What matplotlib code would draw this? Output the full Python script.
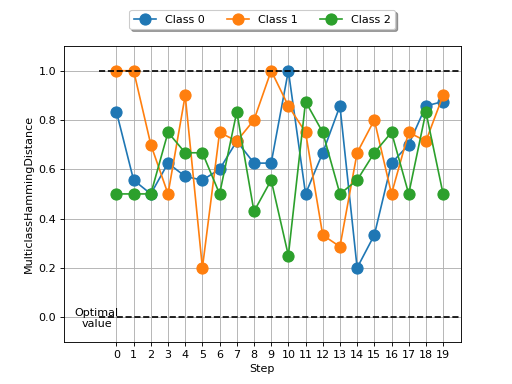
import matplotlib
matplotlib.use("Agg")
import matplotlib.pyplot as plt
import numpy as np

steps = list(range(20))
class0 = [0.833, 0.556, 0.5, 0.625, 0.571, 0.556, 0.6, 0.714, 0.625, 0.625,
          1.0, 0.5, 0.667, 0.857, 0.2, 0.333, 0.625, 0.7, 0.857, 0.875]
class1 = [1.0, 1.0, 0.7, 0.5, 0.9, 0.2, 0.75, 0.714, 0.8, 1.0,
          0.857, 0.75, 0.333, 0.286, 0.667, 0.8, 0.5, 0.75, 0.714, 0.9]
class2 = [0.5, 0.5, 0.5, 0.75, 0.667, 0.667, 0.5, 0.833, 0.429, 0.556,
          0.25, 0.875, 0.75, 0.5, 0.556, 0.667, 0.75, 0.5, 0.833, 0.5]
labels = ["Class 0", "Class 1", "Class 2"]
optimal_lines = [0.0, 1.0]

fig, ax = plt.subplots(figsize=(6.4, 4.8), dpi=80)
for vals, lab in zip([class0, class1, class2], labels):
    ax.plot(steps, vals, marker="o", markersize=10, label=lab)

for v in optimal_lines:
    ax.hlines(v, -1, 20, colors="k", linestyles="dashed", linewidth=1.5)
ax.text(-1.15, -0.005, "Optimal\nvalue", ha="center", va="center", fontsize=10)

ax.set_xticks(steps)
ax.set_xlim(-3.05, 20.03)
ax.set_ylim(-0.1, 1.1)
ax.grid(True)
ax.set_xlabel("Step")
ax.set_ylabel("MulticlassHammingDistance")
ax.legend(loc="upper center", bbox_to_anchor=(0.5, 1.14), ncol=3, shadow=True)

fig.savefig("out.png", dpi=80)
